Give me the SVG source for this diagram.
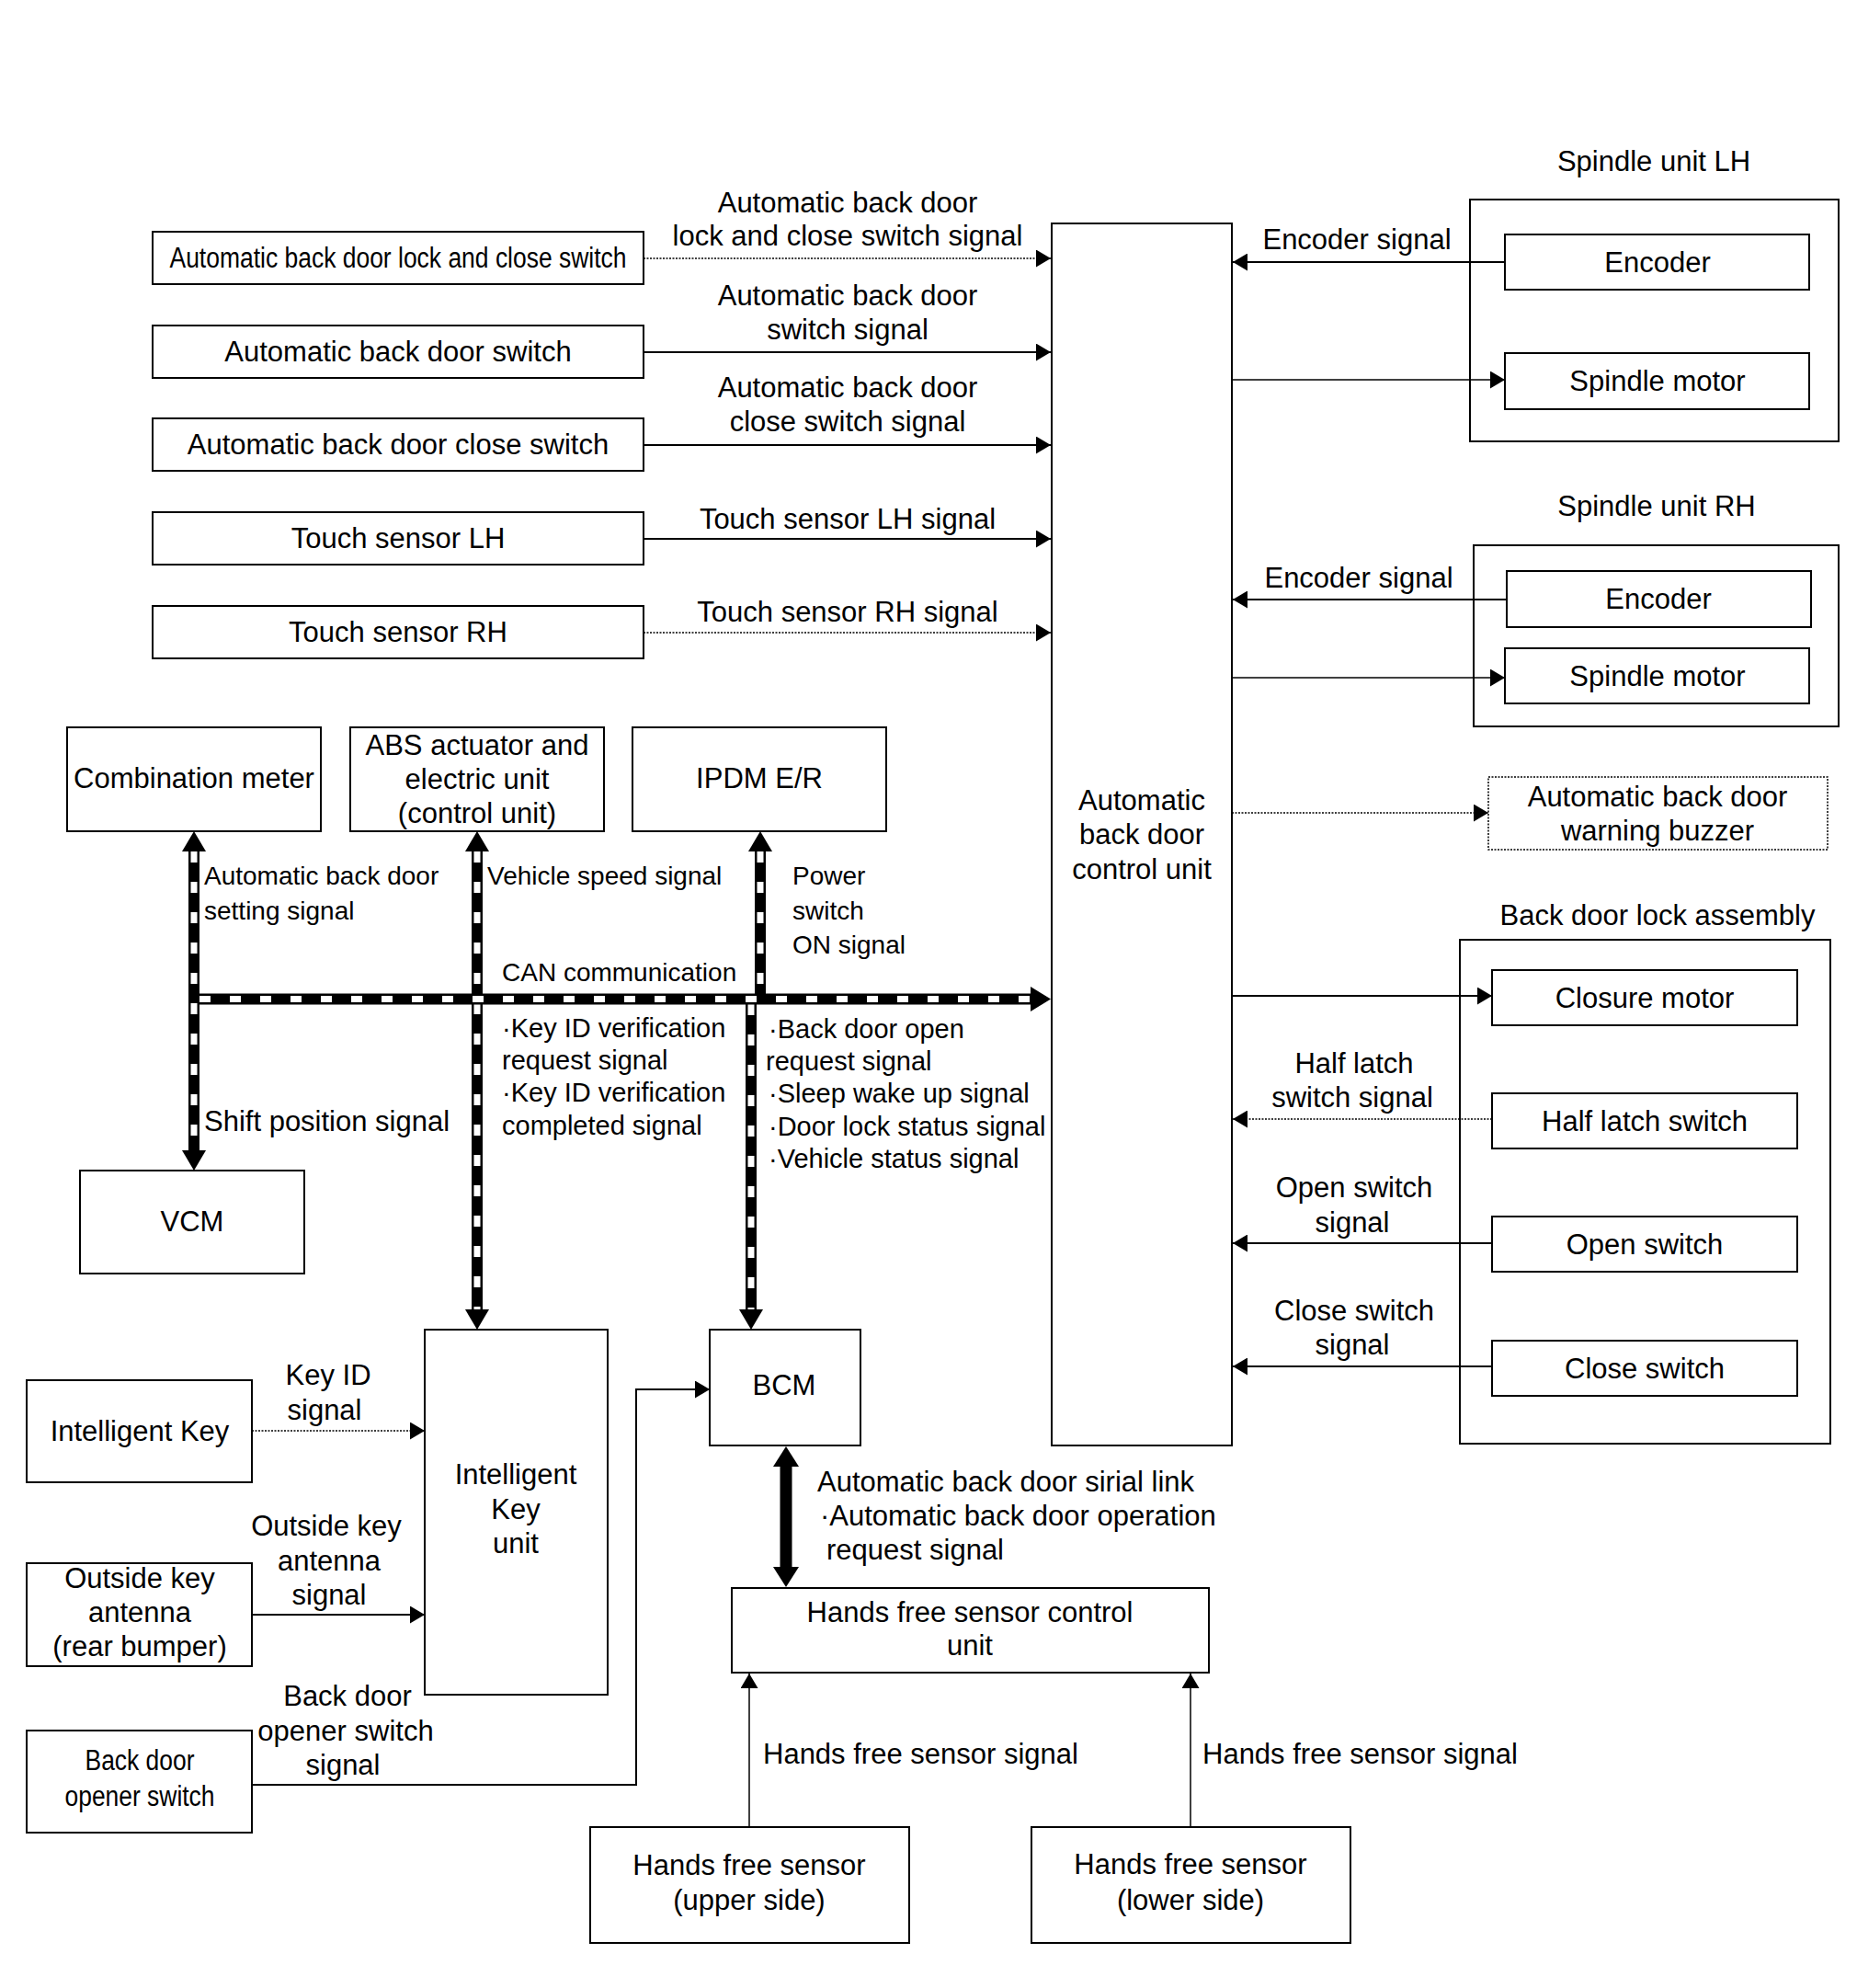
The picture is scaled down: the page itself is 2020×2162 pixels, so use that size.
<svg xmlns="http://www.w3.org/2000/svg" width="2020" height="2162" viewBox="0 0 2020 2162">
<style>
.box{fill:#fff;stroke:#000;stroke-width:2}
.grp{fill:none;stroke:#000;stroke-width:2}
.dbox{fill:#fff;stroke:#000;stroke-width:1.5;stroke-dasharray:2 1.5}
.t{font-family:"Liberation Sans",Arial,sans-serif;font-size:31px;fill:#000}
.m{text-anchor:middle}
.c{font-size:28px}
.d{font-size:29px}
.ln{stroke:#000;stroke-width:2;fill:none}
.thin{stroke-width:1.5}
.dot{stroke-width:1.5;stroke-dasharray:2 1.5}
.busb{stroke:#000;stroke-width:12;fill:none}
.busw{stroke:#fff;stroke-width:7;stroke-dasharray:12 21;fill:none}
.head{fill:#000}
</style>
<defs>
<marker id="ah" markerWidth="16" markerHeight="19" refX="16" refY="9.5" orient="auto" markerUnits="userSpaceOnUse"><path d="M0,0 L16,9.5 L0,19 z" fill="#000"/></marker>
</defs>
<rect width="2020" height="2162" fill="#fff"/>

<g id="node-lock-close-switch"><rect class="box" x="166" y="252" width="534" height="57"/><text class="t m" x="433" y="291" textLength="497" lengthAdjust="spacingAndGlyphs">Automatic back door lock and close switch</text></g>
<g id="node-back-door-switch"><rect class="box" x="166" y="354" width="534" height="57"/><text class="t m" x="433" y="393">Automatic back door switch</text></g>
<g id="node-close-switch-left"><rect class="box" x="166" y="455" width="534" height="57"/><text class="t m" x="433" y="494">Automatic back door close switch</text></g>
<g id="node-touch-lh"><rect class="box" x="166" y="557" width="534" height="57"/><text class="t m" x="433" y="596">Touch sensor LH</text></g>
<g id="node-touch-rh"><rect class="box" x="166" y="659" width="534" height="57"/><text class="t m" x="433" y="698">Touch sensor RH</text></g>

<g id="node-control-unit"><rect class="box" x="1144" y="243" width="196" height="1329"/>
<text class="t m" x="1242" y="881">Automatic</text><text class="t m" x="1242" y="918">back door</text><text class="t m" x="1242" y="956">control unit</text></g>

<g id="node-spindle-lh"><text class="t m" x="1799" y="186">Spindle unit LH</text><rect class="grp" x="1599" y="217" width="401" height="263"/>
<rect class="box" x="1637" y="255" width="331" height="60"/><text class="t m" x="1803" y="296">Encoder</text>
<rect class="box" x="1637" y="384" width="331" height="61"/><text class="t m" x="1803" y="425">Spindle motor</text></g>

<g id="node-spindle-rh"><text class="t m" x="1802" y="561">Spindle unit RH</text><rect class="grp" x="1603" y="593" width="397" height="197"/>
<rect class="box" x="1639" y="621" width="331" height="61"/><text class="t m" x="1804" y="662">Encoder</text>
<rect class="box" x="1637" y="705" width="331" height="60"/><text class="t m" x="1803" y="746">Spindle motor</text></g>

<g id="node-buzzer"><rect class="dbox" x="1619" y="845" width="369" height="79"/>
<text class="t m" x="1803" y="877">Automatic back door</text><text class="t m" x="1803" y="914">warning buzzer</text></g>

<g id="node-lock-assembly"><text class="t m" x="1803" y="1006">Back door lock assembly</text><rect class="grp" x="1588" y="1022" width="403" height="548"/>
<rect class="box" x="1623" y="1055" width="332" height="60"/><text class="t m" x="1789" y="1096">Closure motor</text>
<rect class="box" x="1623" y="1189" width="332" height="60"/><text class="t m" x="1789" y="1230">Half latch switch</text>
<rect class="box" x="1623" y="1323" width="332" height="60"/><text class="t m" x="1789" y="1364">Open switch</text>
<rect class="box" x="1623" y="1458" width="332" height="60"/><text class="t m" x="1789" y="1499">Close switch</text></g>

<g id="node-combination-meter"><rect class="box" x="73" y="791" width="276" height="113"/><text class="t m" x="211" y="857">Combination meter</text></g>
<g id="node-abs"><rect class="box" x="381" y="791" width="276" height="113"/>
<text class="t m" x="519" y="821">ABS actuator and</text><text class="t m" x="519" y="858">electric unit</text><text class="t m" x="519" y="895">(control unit)</text></g>
<g id="node-ipdm"><rect class="box" x="688" y="791" width="276" height="113"/><text class="t m" x="826" y="857">IPDM E/R</text></g>
<g id="node-vcm"><rect class="box" x="87" y="1273" width="244" height="112"/><text class="t m" x="209" y="1339">VCM</text></g>

<g id="node-ik-unit"><rect class="box" x="462" y="1446" width="199" height="397"/>
<text class="t m" x="561" y="1614">Intelligent</text><text class="t m" x="561" y="1652">Key</text><text class="t m" x="561" y="1689">unit</text></g>
<g id="node-bcm"><rect class="box" x="772" y="1446" width="164" height="126"/><text class="t m" x="853" y="1517">BCM</text></g>
<g id="node-intelligent-key"><rect class="box" x="29" y="1501" width="245" height="111"/><text class="t m" x="152" y="1567">Intelligent Key</text></g>
<g id="node-outside-antenna"><rect class="box" x="29" y="1700" width="245" height="112"/>
<text class="t m" x="152" y="1727">Outside key</text><text class="t m" x="152" y="1764">antenna</text><text class="t m" x="152" y="1801">(rear bumper)</text></g>
<g id="node-opener-switch"><rect class="box" x="29" y="1882" width="245" height="111"/>
<text class="t m" x="152" y="1925" textLength="119" lengthAdjust="spacingAndGlyphs">Back door</text><text class="t m" x="152" y="1964" textLength="163" lengthAdjust="spacingAndGlyphs">opener switch</text></g>
<g id="node-hfscu"><rect class="box" x="796" y="1727" width="519" height="92"/>
<text class="t m" x="1055" y="1764">Hands free sensor control</text><text class="t m" x="1055" y="1800">unit</text></g>
<g id="node-hfs-upper"><rect class="box" x="642" y="1987" width="347" height="126"/>
<text class="t m" x="815" y="2039">Hands free sensor</text><text class="t m" x="815" y="2077">(upper side)</text></g>
<g id="node-hfs-lower"><rect class="box" x="1122" y="1987" width="347" height="126"/>
<text class="t m" x="1295" y="2038">Hands free sensor</text><text class="t m" x="1295" y="2077">(lower side)</text></g>

<g id="connectors">
<line class="ln dot" x1="700" y1="281" x2="1143" y2="281" marker-end="url(#ah)"/>
<line class="ln" x1="700" y1="383" x2="1143" y2="383" marker-end="url(#ah)"/>
<line class="ln" x1="700" y1="484" x2="1143" y2="484" marker-end="url(#ah)"/>
<line class="ln" x1="700" y1="586" x2="1143" y2="586" marker-end="url(#ah)"/>
<line class="ln dot" x1="700" y1="688" x2="1143" y2="688" marker-end="url(#ah)"/>
<line class="ln" x1="1637" y1="285" x2="1341" y2="285" marker-end="url(#ah)"/>
<line class="ln thin" x1="1340" y1="413" x2="1637" y2="413" marker-end="url(#ah)"/>
<line class="ln" x1="1639" y1="652" x2="1341" y2="652" marker-end="url(#ah)"/>
<line class="ln thin" x1="1340" y1="737" x2="1637" y2="737" marker-end="url(#ah)"/>
<line class="ln dot" x1="1340" y1="884" x2="1619" y2="884" marker-end="url(#ah)"/>
<line class="ln" x1="1340" y1="1083" x2="1623" y2="1083" marker-end="url(#ah)"/>
<line class="ln dot" x1="1623" y1="1217" x2="1341" y2="1217" marker-end="url(#ah)"/>
<line class="ln" x1="1623" y1="1352" x2="1341" y2="1352" marker-end="url(#ah)"/>
<line class="ln" x1="1623" y1="1486" x2="1341" y2="1486" marker-end="url(#ah)"/>
<line class="ln dot" x1="274" y1="1556" x2="462" y2="1556" marker-end="url(#ah)"/>
<line class="ln" x1="274" y1="1756" x2="462" y2="1756" marker-end="url(#ah)"/>
<polyline class="ln" points="274,1941 692,1941 692,1511 772,1511" marker-end="url(#ah)"/>
<line class="ln thin" x1="815" y1="1987" x2="815" y2="1820" marker-end="url(#ah)"/>
<line class="ln thin" x1="1295" y1="1987" x2="1295" y2="1820" marker-end="url(#ah)"/>
<line stroke="#000" stroke-width="13" x1="855" y1="1594" x2="855" y2="1705"/>
<polygon class="head" points="855,1573 841,1595 869,1595"/>
<polygon class="head" points="855,1726 841,1704 869,1704"/>
<line class="busb" x1="211" y1="926" x2="211" y2="1251"/>
<line class="busw" x1="211" y1="926" x2="211" y2="1251"/>
<polygon class="head" points="211,904 198,926 224,926"/>
<polygon class="head" points="211,1273 198,1251 224,1251"/>
<line class="busb" x1="519" y1="926" x2="519" y2="1424"/>
<line class="busw" x1="519" y1="926" x2="519" y2="1424"/>
<polygon class="head" points="519,904 506,926 532,926"/>
<polygon class="head" points="519,1446 506,1424 532,1424"/>
<line class="busb" x1="827" y1="926" x2="827" y2="1086"/>
<line class="busw" x1="827" y1="926" x2="827" y2="1081"/>
<polygon class="head" points="827,904 814,926 840,926"/>
<line class="busb" x1="817" y1="1086" x2="817" y2="1424"/>
<line class="busw" x1="817" y1="1092" x2="817" y2="1424"/>
<polygon class="head" points="817,1446 804,1424 830,1424"/>
<line class="busb" x1="217" y1="1086.5" x2="1121" y2="1086.5"/>
<line class="busw" x1="217" y1="1086.5" x2="1121" y2="1086.5"/>
<polygon class="head" points="1143,1086.5 1121,1073 1121,1100"/>
</g>

<g id="labels">
<text class="t m" x="922" y="231">Automatic back door</text>
<text class="t m" x="922" y="267">lock and close switch signal</text>
<text class="t m" x="922" y="332">Automatic back door</text>
<text class="t m" x="922" y="369">switch signal</text>
<text class="t m" x="922" y="432">Automatic back door</text>
<text class="t m" x="922" y="469">close switch signal</text>
<text class="t m" x="922" y="575">Touch sensor LH signal</text>
<text class="t m" x="922" y="676">Touch sensor RH signal</text>
<text class="t m" x="1476" y="271">Encoder signal</text>
<text class="t m" x="1478" y="639">Encoder signal</text>
<text class="t m" x="1473" y="1167">Half latch</text>
<text class="t m" x="1471" y="1204">switch signal</text>
<text class="t m" x="1473" y="1302">Open switch</text>
<text class="t m" x="1471" y="1340">signal</text>
<text class="t m" x="1473" y="1436">Close switch</text>
<text class="t m" x="1471" y="1473">signal</text>
<text class="t c" x="222" y="962">Automatic back door</text>
<text class="t c" x="222" y="1000">setting signal</text>
<text class="t" x="222" y="1230">Shift position signal</text>
<text class="t c" x="530" y="962">Vehicle speed signal</text>
<text class="t c" x="862" y="962">Power</text>
<text class="t c" x="862" y="1000">switch</text>
<text class="t c" x="862" y="1037">ON signal</text>
<text class="t c" x="546" y="1067">CAN communication</text>
<text class="t d" x="546" y="1128">·Key ID verification</text>
<text class="t d" x="546" y="1163">request signal</text>
<text class="t d" x="546" y="1198">·Key ID verification</text>
<text class="t d" x="546" y="1234">completed signal</text>
<text class="t d" x="836" y="1129">·Back door open</text>
<text class="t d" x="833" y="1164">request signal</text>
<text class="t d" x="836" y="1199">·Sleep wake up signal</text>
<text class="t d" x="836" y="1235">·Door lock status signal</text>
<text class="t d" x="836" y="1270">·Vehicle status signal</text>
<text class="t m" x="357" y="1506">Key ID</text>
<text class="t m" x="353" y="1544">signal</text>
<text class="t m" x="355" y="1670">Outside key</text>
<text class="t m" x="358" y="1708">antenna</text>
<text class="t m" x="358" y="1745">signal</text>
<text class="t m" x="378" y="1855">Back door</text>
<text class="t m" x="376" y="1893">opener switch</text>
<text class="t m" x="373" y="1930">signal</text>
<text class="t" x="889" y="1622">Automatic back door sirial link</text>
<text class="t" x="892" y="1659">·Automatic back door operation</text>
<text class="t" x="899" y="1696">request signal</text>
<text class="t" x="830" y="1918">Hands free sensor signal</text>
<text class="t" x="1308" y="1918">Hands free sensor signal</text>
</g>
</svg>
